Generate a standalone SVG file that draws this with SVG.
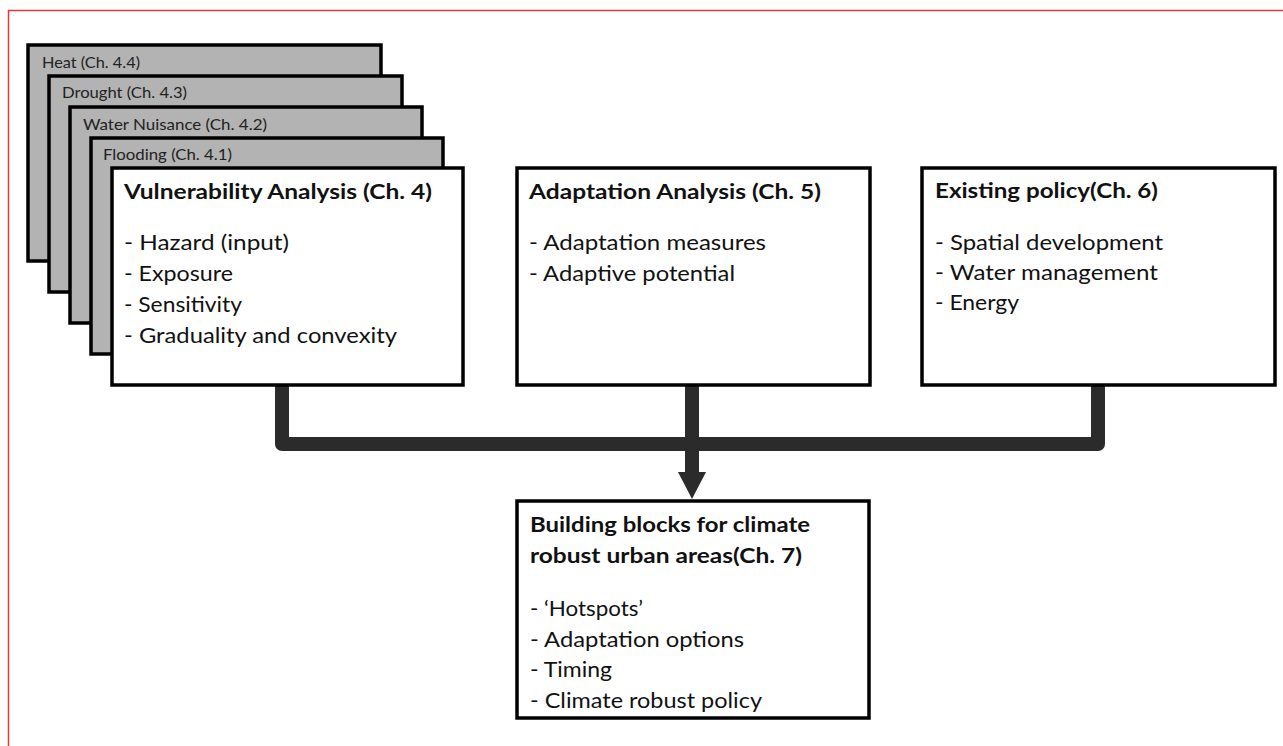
<svg xmlns="http://www.w3.org/2000/svg" width="1283" height="746" viewBox="0 0 1283 746">
  <style>
    .frame { fill: none; stroke: #e23a3a; stroke-width: 1.5; }
    .gray { fill: #b3b3b3; stroke: #000; stroke-width: 3.5; }
    .box { fill: #fff; stroke: #000; stroke-width: 3.5; }
    .small { font-family: Lato, "Open Sans", sans-serif; font-size: 15px; fill: #222; }
    .title { font-family: Lato, "Open Sans", sans-serif; font-size: 21px; font-weight: bold; fill: #111; }
    .item { font-family: Lato, "Open Sans", sans-serif; font-size: 22px; fill: #111; }
    .conn { fill: none; stroke: #2b2b2b; stroke-width: 14; stroke-linejoin: round; }
    .head { fill: #2b2b2b; }
  </style>
  <rect width="1283" height="746" fill="#fff"/>
  <path class="frame" d="M8.5 746 V10.5 H1283"/>

  <g id="heat">
    <rect class="gray" x="28" y="45" width="353" height="216"/>
    <text class="small" x="42" y="68" textLength="98" lengthAdjust="spacingAndGlyphs">Heat (Ch. 4.4)</text>
  </g>
  <g id="drought">
    <rect class="gray" x="49" y="76" width="353" height="216"/>
    <text class="small" x="62" y="98" textLength="125" lengthAdjust="spacingAndGlyphs">Drought (Ch. 4.3)</text>
  </g>
  <g id="water-nuisance">
    <rect class="gray" x="70" y="107" width="352" height="216"/>
    <text class="small" x="83" y="130" textLength="184" lengthAdjust="spacingAndGlyphs">Water Nuisance (Ch. 4.2)</text>
  </g>
  <g id="flooding">
    <rect class="gray" x="91" y="138" width="352" height="216"/>
    <text class="small" x="103" y="160" textLength="129" lengthAdjust="spacingAndGlyphs">Flooding (Ch. 4.1)</text>
  </g>

  <g id="connectors">
    <path class="conn" d="M282 386 V444 H1098 V386"/>
    <path class="conn" d="M692 386 V474"/>
    <polygon class="head" points="678,472 706,472 692,499"/>
  </g>

  <g id="vulnerability">
    <rect class="box" x="112" y="168" width="351" height="217"/>
    <text class="title" x="124" y="199" textLength="308" lengthAdjust="spacingAndGlyphs">Vulnerability Analysis (Ch. 4)</text>
    <text class="item" x="124" y="250" textLength="165" lengthAdjust="spacingAndGlyphs">- Hazard (input)</text>
    <text class="item" x="124" y="281" textLength="109" lengthAdjust="spacingAndGlyphs">- Exposure</text>
    <text class="item" x="124" y="312" textLength="118" lengthAdjust="spacingAndGlyphs">- Sensitivity</text>
    <text class="item" x="124" y="343" textLength="273" lengthAdjust="spacingAndGlyphs">- Graduality and convexity</text>
  </g>

  <g id="adaptation">
    <rect class="box" x="517" y="168" width="353" height="217"/>
    <text class="title" x="529" y="199" textLength="292" lengthAdjust="spacingAndGlyphs">Adaptation Analysis (Ch. 5)</text>
    <text class="item" x="529" y="250" textLength="237" lengthAdjust="spacingAndGlyphs">- Adaptation measures</text>
    <text class="item" x="529" y="281" textLength="206" lengthAdjust="spacingAndGlyphs">- Adaptive potential</text>
  </g>

  <g id="existing-policy">
    <rect class="box" x="922" y="168" width="353" height="217"/>
    <text class="title" x="935" y="198" textLength="223" lengthAdjust="spacingAndGlyphs">Existing policy(Ch. 6)</text>
    <text class="item" x="935" y="250" textLength="228" lengthAdjust="spacingAndGlyphs">- Spatial development</text>
    <text class="item" x="935" y="280" textLength="223" lengthAdjust="spacingAndGlyphs">- Water management</text>
    <text class="item" x="935" y="310" textLength="84" lengthAdjust="spacingAndGlyphs">- Energy</text>
  </g>

  <g id="building-blocks">
    <rect class="box" x="517" y="501" width="352" height="217"/>
    <text class="title" x="530" y="532" textLength="280" lengthAdjust="spacingAndGlyphs">Building blocks for climate</text>
    <text class="title" x="530" y="563" textLength="272" lengthAdjust="spacingAndGlyphs">robust urban areas(Ch. 7)</text>
    <text class="item" x="530" y="616" textLength="113" lengthAdjust="spacingAndGlyphs">- ‘Hotspots’</text>
    <text class="item" x="530" y="647" textLength="214" lengthAdjust="spacingAndGlyphs">- Adaptation options</text>
    <text class="item" x="530" y="677" textLength="82" lengthAdjust="spacingAndGlyphs">- Timing</text>
    <text class="item" x="530" y="708" textLength="232" lengthAdjust="spacingAndGlyphs">- Climate robust policy</text>
  </g>
</svg>
